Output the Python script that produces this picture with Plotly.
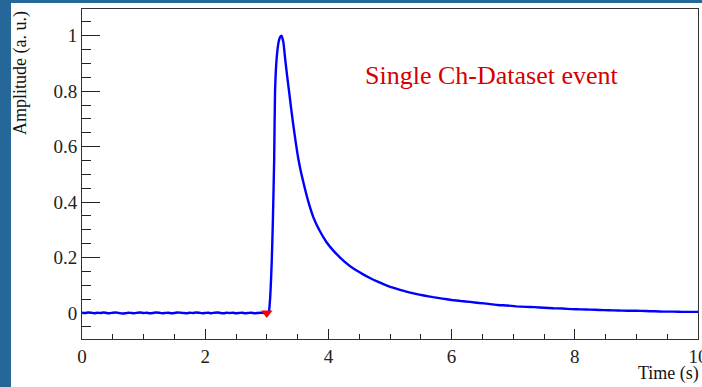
import plotly.graph_objects as go

# Baseline before the trigger (time in s, amplitude in a.u.)
base_t = [0.00, 0.05, 0.10, 0.15, 0.20, 0.25, 0.30, 0.35, 0.40, 0.45,
          0.50, 0.55, 0.60, 0.65, 0.70, 0.75, 0.80, 0.85, 0.90, 0.95,
          1.00, 1.05, 1.10, 1.15, 1.20, 1.25, 1.30, 1.35, 1.40, 1.45,
          1.50, 1.55, 1.60, 1.65, 1.70, 1.75, 1.80, 1.85, 1.90, 1.95,
          2.00, 2.05, 2.10, 2.15, 2.20, 2.25, 2.30, 2.35, 2.40, 2.45,
          2.50, 2.55, 2.60, 2.65, 2.70, 2.75, 2.80, 2.85, 2.90, 2.95]
base_amp = [0.001, 0.000, 0.002, 0.001, -0.001, 0.001, 0.000, 0.002, 0.000, -0.001,
            0.001, 0.002, 0.000, -0.002, -0.001, 0.001, 0.000, -0.001, 0.001, 0.002,
            0.000, 0.001, -0.001, 0.000, 0.002, 0.001, -0.001, 0.000, 0.001, -0.001,
            0.000, 0.002, 0.001, 0.000, -0.001, 0.001, 0.000, 0.002, 0.001, -0.001,
            0.000, 0.001, -0.001, 0.001, 0.002, 0.000, -0.001, 0.001, 0.000, 0.001,
            -0.001, 0.000, 0.001, -0.001, 0.000, 0.001, -0.001, 0.000, 0.001, 0.000]

# Pulse and decay tail
pulse_t = [3.00, 3.03, 3.05, 3.08, 3.097, 3.12, 3.134, 3.16, 3.19, 3.215,
           3.24, 3.27, 3.297, 3.33, 3.362, 3.395, 3.43, 3.47, 3.51, 3.56,
           3.62, 3.68, 3.756, 3.85, 3.97, 4.08, 4.19, 4.30, 4.40, 4.55,
           4.675, 4.80, 4.95, 5.10, 5.25, 5.40, 5.55, 5.70, 5.85, 6.00,
           6.15, 6.30, 6.45, 6.60, 6.75, 6.90, 7.05, 7.20, 7.35, 7.50,
           7.65, 7.80, 7.95, 8.10, 8.25, 8.40, 8.55, 8.70, 8.85, 9.00,
           9.15, 9.30, 9.45, 9.60, 9.75, 9.90, 10.0]
pulse_amp = [0.000, 0.001, 0.04, 0.185, 0.317, 0.558, 0.80, 0.918, 0.975, 0.995,
             1.000, 0.975, 0.918, 0.855, 0.798, 0.738, 0.678, 0.615, 0.558, 0.503,
             0.447, 0.397, 0.345, 0.300, 0.255, 0.225, 0.200, 0.178, 0.161, 0.141,
             0.126, 0.113, 0.099, 0.088, 0.078, 0.070, 0.063, 0.057, 0.052, 0.047,
             0.043, 0.040, 0.036, 0.033, 0.029, 0.027, 0.024, 0.022, 0.021, 0.019,
             0.017, 0.016, 0.014, 0.013, 0.012, 0.011, 0.010, 0.009, 0.008, 0.008,
             0.007, 0.006, 0.005, 0.005, 0.004, 0.004, 0.004]

time_s = base_t + pulse_t
amplitude = base_amp + pulse_amp

trigger_t = [3.0]
trigger_amp = [0.0]

x_ticks = [0, 2, 4, 6, 8, 10]
y_ticks = [0, 0.2, 0.4, 0.6, 0.8, 1]
y_tick_text = ["0", "0.2", "0.4", "0.6", "0.8", "1"]

label_text = "Single Ch-Dataset event"
x_title = "Time (s)"
y_title = "Amplitude (a. u.)"

SERIF = "Liberation Serif"
L, R, T, B = 82, 4, 9, 48
W, H = 702, 387
PW, PH = W - L - R, H - T - B

fig = go.Figure()
fig.add_trace(go.Scatter(x=time_s, y=amplitude, mode="lines",
                         line=dict(color="#0000ff", width=2.4, shape="spline", smoothing=0.5),
                         hoverinfo="skip"))
fig.add_trace(go.Scatter(x=trigger_t, y=trigger_amp, mode="markers",
                         marker=dict(symbol="triangle-down", color="#ff0000", size=10,
                                     line=dict(width=0)), hoverinfo="skip"))

fig.add_shape(type="rect", xref="paper", yref="paper",
              x0=(11 - L) / PW, x1=1.2, y0=-0.4, y1=(H - B - 3) / PH,
              fillcolor="white", line=dict(width=0), layer="below")

fig.add_annotation(x=6.64, y=0.855, xref="x", yref="y", text=label_text,
                   showarrow=False, font=dict(family=SERIF, size=26, color="#d40000"),
                   xanchor="center", yanchor="middle")
fig.add_annotation(x=(20 - L) / PW, y=1.0, xref="paper", yref="paper", text=y_title,
                   textangle=-90, showarrow=False, xanchor="center", yanchor="top",
                   font=dict(family=SERIF, size=18, color="#111111"))
fig.add_annotation(x=(701 - L) / PW, y=(339 - 373) / PH, xref="paper", yref="paper",
                   text=x_title, showarrow=False, xanchor="right", yanchor="middle",
                   font=dict(family=SERIF, size=18, color="#111111"))

fig.update_layout(
    width=W, height=H,
    margin=dict(l=L, r=R, t=T, b=B, pad=0, autoexpand=False),
    paper_bgcolor="#26679a", plot_bgcolor="white",
    showlegend=False,
    xaxis=dict(range=[0, 10], tickvals=x_ticks, ticks="inside", ticklen=10,
               tickcolor="#222222", tickwidth=1, showgrid=False, zeroline=False,
               showline=True, linecolor="#333333", linewidth=1, mirror=True,
               ticklabeloverflow="allow", automargin=False, layer="below traces",
               tickfont=dict(family=SERIF, size=19, color="#222222"),
               minor=dict(dtick=0.5, ticks="inside", ticklen=5, tickcolor="#222222", showgrid=False)),
    yaxis=dict(range=[-0.0938, 1.0962], tickvals=y_ticks, ticktext=y_tick_text,
               ticks="inside", ticklen=18, tickcolor="#222222", tickwidth=1,
               showgrid=False, zeroline=False, showline=True, linecolor="#333333",
               linewidth=1, mirror=True, automargin=False, layer="below traces",
               tickfont=dict(family=SERIF, size=19, color="#222222"),
               minor=dict(dtick=0.05, tick0=0, ticks="inside", ticklen=9, tickcolor="#222222", showgrid=False)),
)

fig.write_html("out.html", config={"displayModeBar": False},
               post_script="document.body.style.margin='0';document.body.style.overflow='hidden';")
